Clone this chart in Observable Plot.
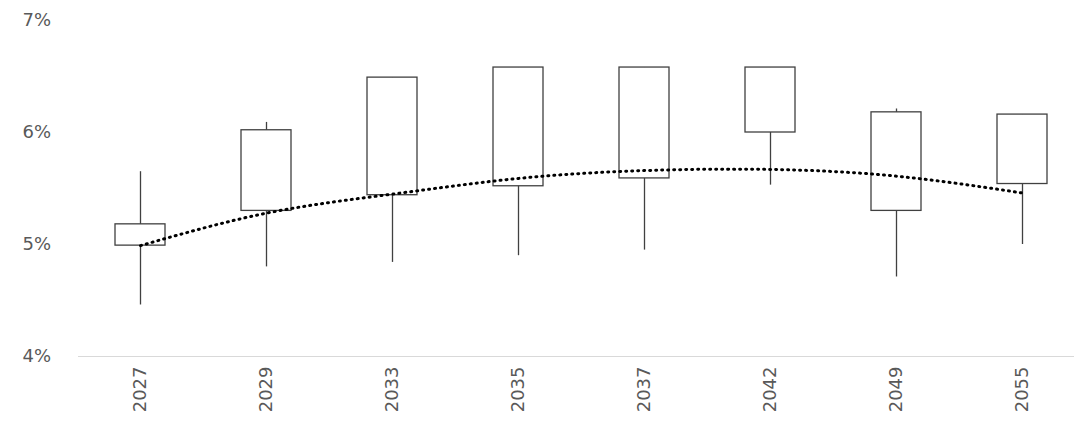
<!DOCTYPE html>
<html><head><meta charset="utf-8">
<script src="https://cdn.jsdelivr.net/npm/d3@7"></script>
<script src="https://cdn.jsdelivr.net/npm/@observablehq/plot@0.6"></script>
<style>body{margin:0;background:#fff;font-family:"Liberation Sans",Arial,sans-serif}</style>
</head><body><div id="chart"></div>
<script>
const years = ["2027","2029","2033","2035","2037","2042","2049","2055"];
const opens = [0.0518,0.0602,0.0649,0.0658,0.0658,0.0658,0.0618,0.0616];
const closes = [0.0499,0.0530,0.0544,0.0552,0.0559,0.0600,0.0530,0.0554];
const highs = [0.0565,0.0609,0.0649,0.0658,0.0658,0.0658,0.0621,0.0616];
const lows = [0.0446,0.0480,0.0484,0.0490,0.0495,0.0553,0.0471,0.0500];
const trend = [0.0499,0.0528,0.0545,0.0559,0.0566,0.0567,0.0561,0.0546];
const data = years.map((y,i)=>({year:y,open:opens[i],close:closes[i],high:highs[i],low:lows[i],trend:trend[i]}));
const chart = Plot.plot({
  width:1074, height:432, marginLeft:78, marginRight:0, marginTop:20, marginBottom:76,
  style:{fontSize:"18px", color:"#595959", fontFamily:"DejaVu Sans, Arial, sans-serif"},
  x:{domain:years, range:[115,1048], paddingInner:0.6, paddingOuter:0, label:null, tickSize:0, tickRotate:-90, tickPadding:10},
  y:{domain:[0.04,0.07], ticks:[0.04,0.05,0.06,0.07], tickFormat:".0%", label:null, tickSize:0, tickPadding:56},
  marks:[
    Plot.ruleY([0.04],{stroke:"#d9d9d9"}),
    Plot.ruleX(data,{x:"year", y1:"low", y2:"high", stroke:"#404040", strokeWidth:1.3}),
    Plot.barY(data,{x:"year", y1:"close", y2:"open", fill:"white", stroke:"#404040", strokeWidth:1.3}),
    Plot.line(data,{x:"year", y:"trend", curve:"natural", stroke:"#000", strokeWidth:3, strokeDasharray:"1 5", strokeLinecap:"round"})
  ]
});
chart.querySelectorAll("[aria-label='y-axis tick label'] text").forEach(t=>t.setAttribute("text-anchor","start"));
document.getElementById("chart").append(chart);
</script></body></html>
